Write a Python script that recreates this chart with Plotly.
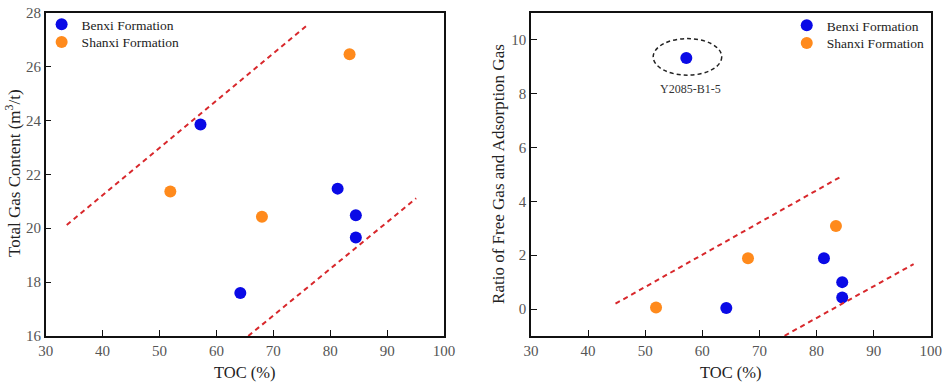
import plotly.graph_objects as go

# ---- data ----
benxi_toc = [57.2, 64.2, 81.3, 84.5, 84.5]
benxi_gas = [23.85, 17.6, 21.47, 20.48, 19.66]
shanxi_toc = [51.9, 68.0, 83.4]
shanxi_gas = [21.36, 20.43, 26.46]

benxi_ratio = [9.32, 0.04, 1.89, 1.0, 0.43]
shanxi_ratio = [0.06, 1.89, 3.08]

left_upper_x = [33.7, 76.2]
left_upper_y = [20.12, 27.58]
left_lower_x = [65.6, 95.1]
left_lower_y = [16.0, 21.11]

right_upper_x = [44.8, 84.4]
right_upper_y = [0.2, 4.93]
right_lower_x = [74.4, 97.0]
right_lower_y = [-0.99, 1.67]

x_ticks = [30, 40, 50, 60, 70, 80, 90, 100]
left_y_ticks = [16, 18, 20, 22, 24, 26, 28]
right_y_ticks = [0, 2, 4, 6, 8, 10]

BLUE = "#0a0ae6"
ORANGE = "#ff8a1c"
RED = "#d8282c"
FONT = "Liberation Serif"

fig = go.Figure()

mk = dict(size=12, line=dict(width=0))
fig.add_trace(go.Scatter(x=benxi_toc, y=benxi_gas, mode="markers", name="Benxi Formation",
                         marker=dict(color=BLUE, **mk), xaxis="x", yaxis="y", legend="legend"))
fig.add_trace(go.Scatter(x=shanxi_toc, y=shanxi_gas, mode="markers", name="Shanxi Formation",
                         marker=dict(color=ORANGE, **mk), xaxis="x", yaxis="y", legend="legend3"))
for xs, ys in [(left_upper_x, left_upper_y), (left_lower_x, left_lower_y)]:
    fig.add_trace(go.Scatter(x=xs, y=ys, mode="lines", line=dict(color=RED, width=2, dash="5px,4px"),
                             showlegend=False, xaxis="x", yaxis="y", hoverinfo="skip"))

fig.add_trace(go.Scatter(x=benxi_toc, y=benxi_ratio, mode="markers", name="Benxi Formation",
                         marker=dict(color=BLUE, **mk), xaxis="x2", yaxis="y2", legend="legend2"))
fig.add_trace(go.Scatter(x=shanxi_toc, y=shanxi_ratio, mode="markers", name="Shanxi Formation",
                         marker=dict(color=ORANGE, **mk), xaxis="x2", yaxis="y2", legend="legend4"))
for xs, ys in [(right_upper_x, right_upper_y), (right_lower_x, right_lower_y)]:
    fig.add_trace(go.Scatter(x=xs, y=ys, mode="lines", line=dict(color=RED, width=2, dash="5px,4px"),
                             showlegend=False, xaxis="x2", yaxis="y2", hoverinfo="skip"))

# ellipse around outlier
fig.add_shape(type="circle", xref="x2", yref="y2", x0=51.4, x1=63.4, y0=8.68, y1=10.04,
              line=dict(color="#222", width=1.5, dash="4px,3px"))
fig.add_annotation(x=58.0, y=8.17, xref="x2", yref="y2", text="Y2085-B1-5", showarrow=False,
                   font=dict(family=FONT, size=12, color="#333"))

ax_common = dict(showline=True, linecolor="#111", linewidth=1.5, mirror=True, ticks="inside",
                 ticklen=6, tickcolor="#111", showgrid=False, zeroline=False, automargin=False,
                 tickfont=dict(family=FONT, size=15, color="#555"))

leg_common = dict(xanchor="left", yanchor="top", bgcolor="rgba(0,0,0,0)",
                  font=dict(family=FONT, size=13.5, color="#222"), itemwidth=30, tracegroupgap=0)

fig.update_layout(
    template="none",
    width=948, height=389,
    margin=dict(l=0, r=0, t=0, b=0, autoexpand=False),
    plot_bgcolor="white", paper_bgcolor="white",
    xaxis=dict(domain=[0.0482, 0.4684], range=[30, 100], tickvals=x_ticks, anchor="y", **ax_common),
    yaxis=dict(domain=[0.1362, 0.9674], range=[16, 28], tickvals=left_y_ticks, anchor="x", **ax_common),
    xaxis2=dict(domain=[0.5601, 0.9818], range=[30, 100], tickvals=x_ticks, anchor="y2", **ax_common),
    yaxis2=dict(domain=[0.1362, 0.9674], range=[-1, 11], tickvals=right_y_ticks, anchor="x2", **ax_common),
    legend=dict(x=0.0439, y=0.9769, **leg_common),
    legend3=dict(x=0.0439, y=0.9314, **leg_common),
    legend2=dict(x=0.8299, y=0.9743, **leg_common),
    legend4=dict(x=0.8299, y=0.9288, **leg_common),
    showlegend=True,
)

# axis titles
fig.add_annotation(x=0.258, y=(389 - 372.5) / 389, xref="paper", yref="paper",
                   xanchor="center", yanchor="middle",
                   text="TOC (%)", showarrow=False, font=dict(family=FONT, size=16.5, color="#222"))
fig.add_annotation(x=0.771, y=(389 - 372.5) / 389, xref="paper", yref="paper",
                   xanchor="center", yanchor="middle",
                   text="TOC (%)", showarrow=False, font=dict(family=FONT, size=16.5, color="#222"))
fig.add_annotation(x=13.5 / 948, y=0.554, xref="paper", yref="paper", textangle=-90,
                   xanchor="center", yanchor="middle",
                   text="Total Gas Content (m<sup>3</sup>/t)", showarrow=False,
                   font=dict(family=FONT, size=17, color="#222"))
fig.add_annotation(x=499 / 948, y=0.553, xref="paper", yref="paper", textangle=-90,
                   xanchor="center", yanchor="middle",
                   text="Ratio of Free Gas and Adsorption Gas", showarrow=False,
                   font=dict(family=FONT, size=17, color="#222"))

fig.write_html("out.html", config={"displayModeBar": False},
               post_script="document.body.style.margin='0';document.body.style.overflow='hidden';")
